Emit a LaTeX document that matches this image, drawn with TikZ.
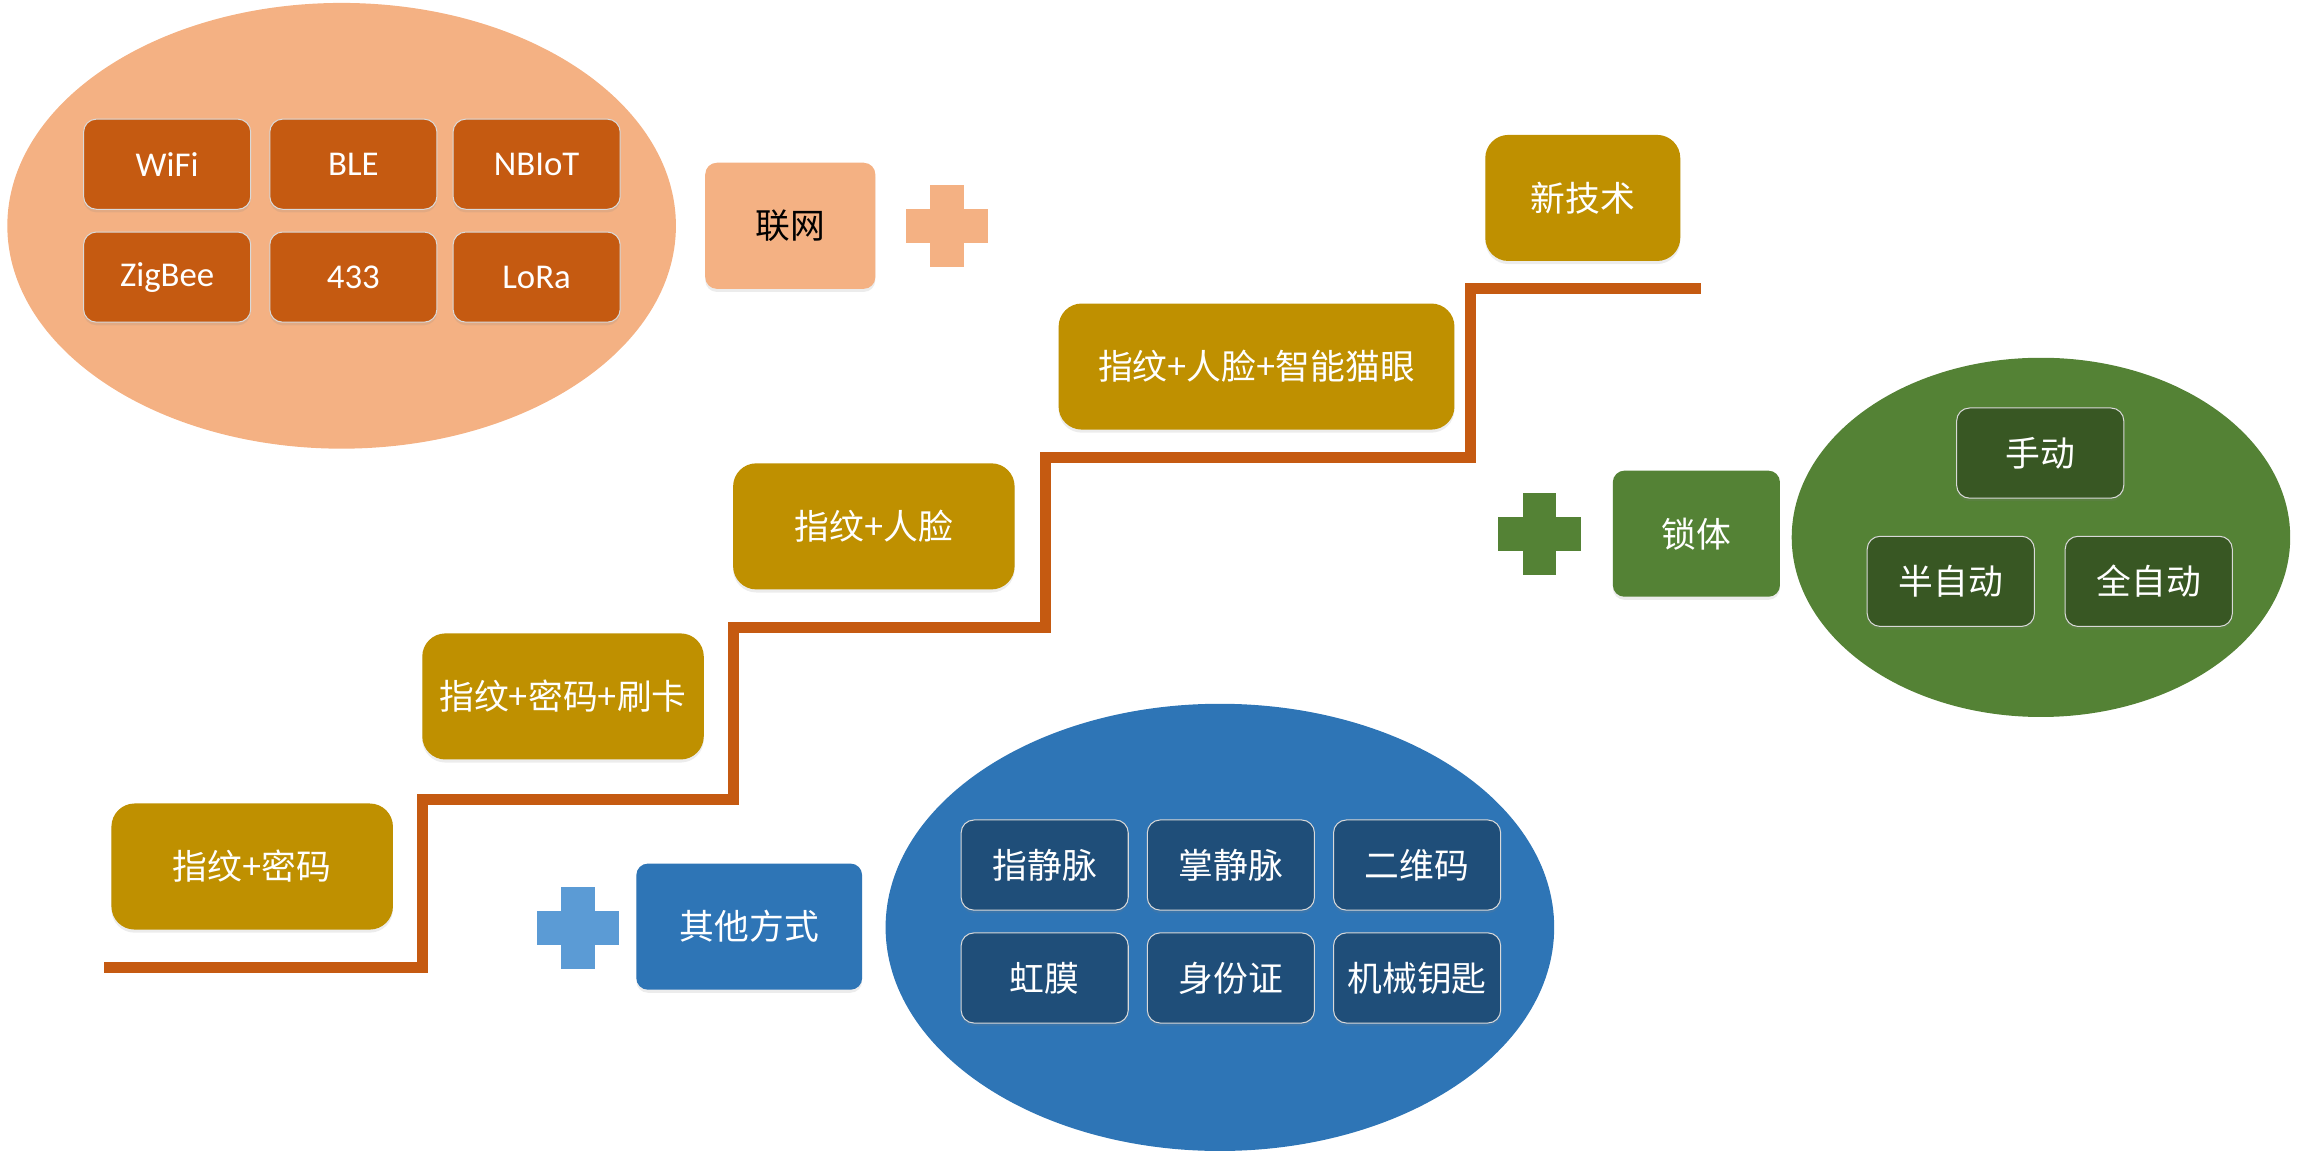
\documentclass[tikz,border=0pt]{standalone}
\usepackage{fontspec}
\setmainfont{Carlito}
\newfontfamily\cjk{Noto Sans CJK SC}
\usetikzlibrary{shapes.geometric,shadows}
\definecolor{netfill}{HTML}{F4B183}
\definecolor{netdark}{HTML}{C55A11}
\definecolor{stepgold}{HTML}{BF9000}
\definecolor{lockfill}{HTML}{548235}
\definecolor{lockdark}{HTML}{385723}
\definecolor{otherfill}{HTML}{2E75B6}
\definecolor{otherdark}{HTML}{1F4E79}
\definecolor{otherplus}{HTML}{5B9BD5}

\begin{document}
\begin{tikzpicture}[
  x=0.2mm, y=-0.2mm,
  group/.style={ellipse, inner sep=0pt},
  item/.style={draw=white!70!gray, line width=0.4pt, rounded corners=5pt,
    minimum width=22.8mm, minimum height=12.3mm, text=white, inner sep=1pt,
    font=\fontsize{13.5}{16}\selectfont,
    drop shadow={opacity=0.15, shadow xshift=0pt, shadow yshift=-1.2pt}},
  citem/.style={item, font=\cjk\fontsize{13.5}{16}\selectfont},
  tag/.style={rounded corners=4.5pt, minimum height=17.2mm, inner sep=1pt,
    font=\cjk\fontsize{13.5}{16}\selectfont,
    drop shadow={opacity=0.15, shadow xshift=0pt, shadow yshift=-1.2pt}},
  stage/.style={fill=stepgold, rounded corners=9pt, minimum height=17.2mm,
    text=white, inner sep=1pt, font=\cjk\fontsize{13.5}{16}\selectfont,
    drop shadow={opacity=0.15, shadow xshift=0pt, shadow yshift=-1.2pt}},
  stair/.style={draw=netdark, line width=4.3pt}
]
  \useasboundingbox (0,0) rectangle (1568,792);

  % Networking group (top left)
  \node[group, fill=netfill, minimum width=91.2mm, minimum height=60.8mm] (net) at (233,154) {};
  \node[item, fill=netdark] (wifi)   at (114,112) {WiFi};
  \node[item, fill=netdark] (ble)    at (241,112) {BLE};
  \node[item, fill=netdark] (nbiot)  at (366,112) {NBIoT};
  \node[item, fill=netdark] (zigbee) at (114,189) {ZigBee};
  \node[item, fill=netdark] (f433)   at (241,189) {433};
  \node[item, fill=netdark] (lora)   at (366,189) {LoRa};
  \node[tag, fill=netfill, minimum width=23.2mm] (netbox) at (539,154) {联网};

  % Lock body group (right)
  \node[group, fill=lockfill, minimum width=68mm, minimum height=49mm] (lock) at (1392,366.5) {};
  \node[citem, fill=lockdark] (manual) at (1391.5,309)   {手动};
  \node[citem, fill=lockdark] (semi)   at (1330.5,396.5) {半自动};
  \node[citem, fill=lockdark] (full)   at (1465.5,396.5) {全自动};
  \node[tag, fill=lockfill, text=white, minimum width=22.8mm] (lockbox) at (1157,364) {锁体};

  % Other methods group (bottom)
  \node[group, fill=otherfill, minimum width=91.2mm, minimum height=61mm] (other) at (832,632.5) {};
  \node[citem, fill=otherdark] (fvein) at (712.5,590) {指静脉};
  \node[citem, fill=otherdark] (pvein) at (839.5,590) {掌静脉};
  \node[citem, fill=otherdark] (qr)    at (966.5,590) {二维码};
  \node[citem, fill=otherdark] (iris)  at (712.5,667) {虹膜};
  \node[citem, fill=otherdark] (idc)   at (839.5,667) {身份证};
  \node[citem, fill=otherdark] (mkey)  at (966.5,667) {机械钥匙};
  \node[tag, fill=otherfill, text=white, minimum width=30.8mm] (otherbox) at (511,632) {其他方式};

  % Plus signs
  \foreach \px/\py/\pc in {646/154/netfill, 1050/364/lockfill, 394/633/otherplus} {
    \fill[\pc] (\px-28,\py-11.5) rectangle (\px+28,\py+11.5);
    \fill[\pc] (\px-11.5,\py-28) rectangle (\px+11.5,\py+28);
  }

  % Staircase
  \draw[stair] (71,660) -- (288,660) -- (288,545) -- (500,545) -- (500,428)
    -- (713,428) -- (713,312) -- (1003,312) -- (1003,197) -- (1160,197);

  % Stages
  \node[stage, minimum width=38.4mm] (s1) at (172,591)    {指纹+密码};
  \node[stage, minimum width=38.4mm] (s2) at (384,475)    {指纹+密码+刷卡};
  \node[stage, minimum width=38.4mm] (s3) at (596,359)    {指纹+人脸};
  \node[stage, minimum width=54mm]   (s4) at (857,250)    {指纹+人脸+智能猫眼};
  \node[stage, minimum width=26.6mm] (s5) at (1079.5,135) {新技术};

\end{tikzpicture}
\end{document}
